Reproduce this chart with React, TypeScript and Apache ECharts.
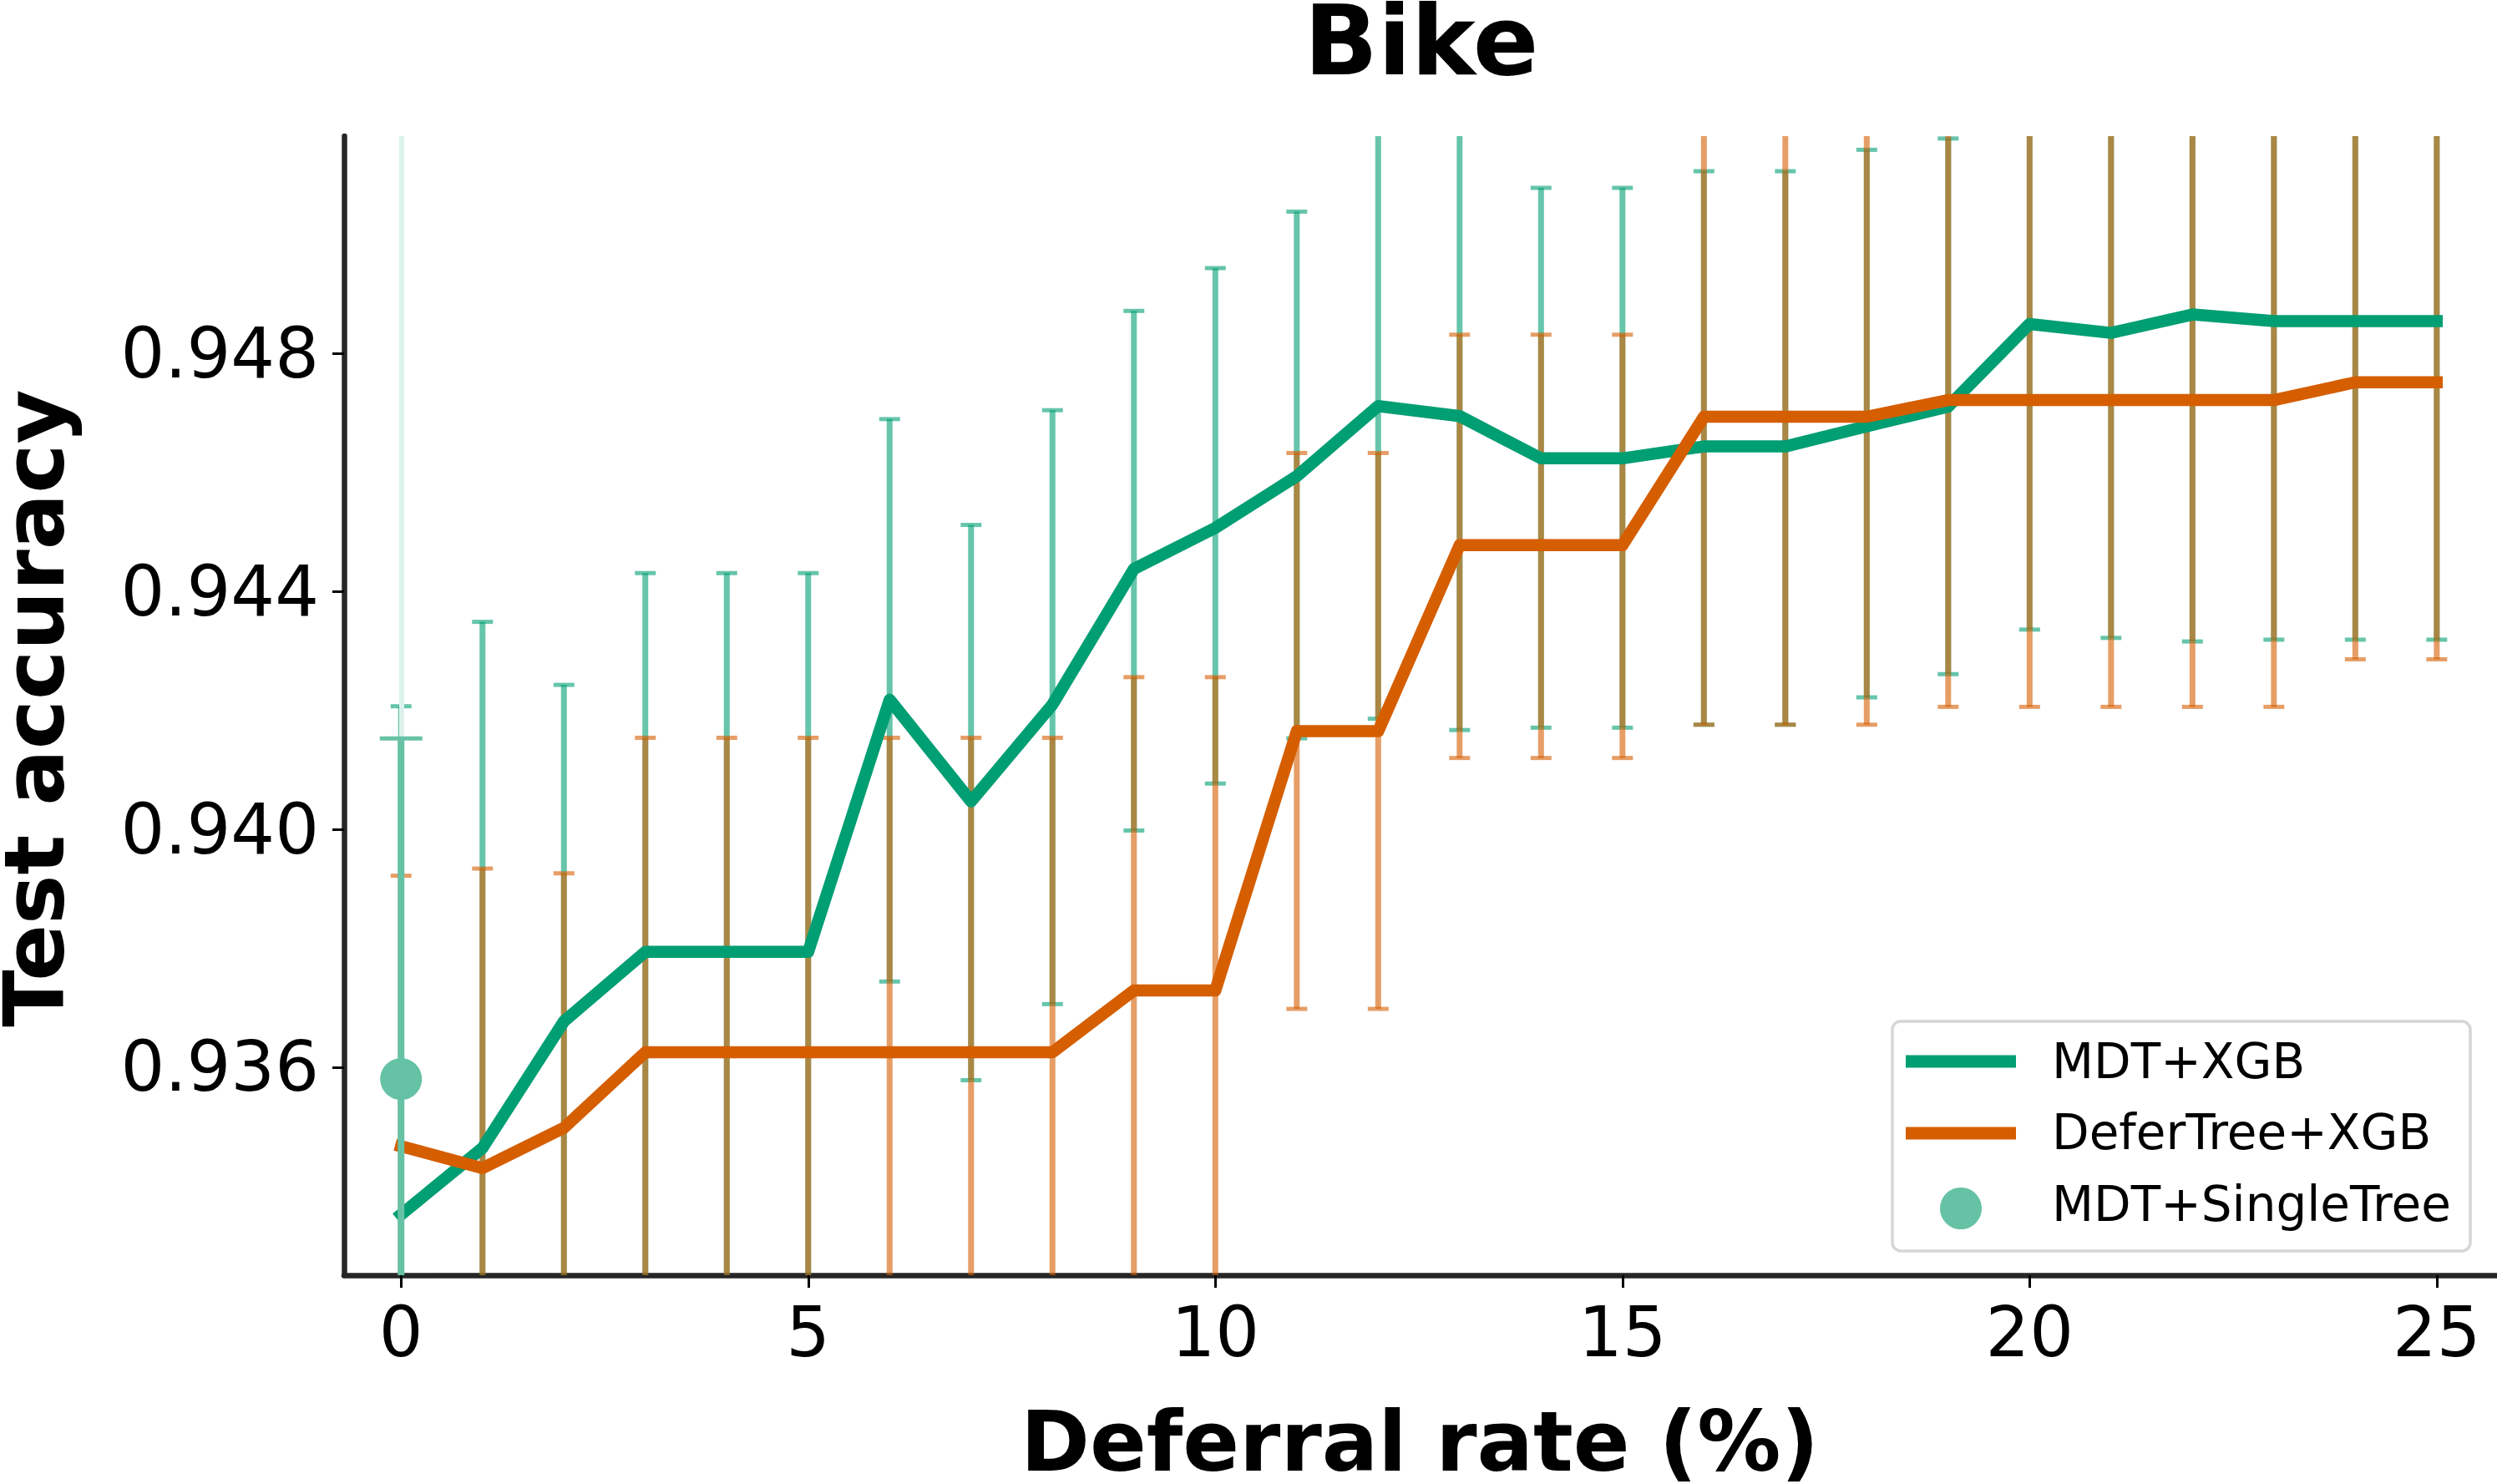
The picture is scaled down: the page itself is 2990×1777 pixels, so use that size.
import React, { useEffect, useRef } from "react";
import * as echarts from "echarts";

// Deferral rate (%) on the x axis
const deferralRates = [0, 1, 2, 3, 4, 5, 6, 7, 8, 9, 10, 11, 12, 13, 14, 15, 16, 17, 18, 19, 20, 21, 22, 23, 24, 25];

// MDT+XGB: mean test accuracy and error-bar ends
const mdtXgbMean = [
  0.93352, 0.93464, 0.93677, 0.93794, 0.93794, 0.93794, 0.94218, 0.94047, 0.9421, 0.94438,
  0.94507, 0.94594, 0.94712, 0.94695, 0.94624, 0.94624, 0.94644, 0.94644, 0.94678, 0.94711,
  0.9485, 0.94835, 0.94866, 0.94855, 0.94855, 0.94855,
];
const mdtXgbLower = [
  0.92497, 0.92579, 0.93111, 0.93157, 0.93157, 0.93157, 0.93744, 0.93578, 0.93706, 0.93998,
  0.94077, 0.94153, 0.94186, 0.94167, 0.94171, 0.94171, 0.94176, 0.94176, 0.94222, 0.94261,
  0.94336, 0.94322, 0.94316, 0.94319, 0.94319, 0.94319,
];
const mdtXgbUpper = [
  0.94207, 0.94349, 0.94243, 0.94431, 0.94431, 0.94431, 0.9469, 0.94512, 0.94705, 0.94872,
  0.94944, 0.95039, 0.95238, 0.95223, 0.95079, 0.95079, 0.95107, 0.95107, 0.95143, 0.95162,
  0.95364, 0.95348, 0.95416, 0.95391, 0.95391, 0.95391,
];

// DeferTree+XGB: mean test accuracy and error-bar ends
const deferTreeMean = [
  0.93467, 0.9343, 0.93498, 0.93625, 0.93625, 0.93625, 0.93625, 0.93625, 0.93625, 0.93729,
  0.93729, 0.94165, 0.94165, 0.94478, 0.94478, 0.94478, 0.94694, 0.94694, 0.94694, 0.94722,
  0.94722, 0.94722, 0.94722, 0.94722, 0.94752, 0.94752,
];
const deferTreeLower = [
  0.93012, 0.92926, 0.9307, 0.93096, 0.93096, 0.93096, 0.93096, 0.93096, 0.93096, 0.93202,
  0.93202, 0.93698, 0.93698, 0.9412, 0.9412, 0.9412, 0.94176, 0.94176, 0.94176, 0.94206,
  0.94206, 0.94206, 0.94206, 0.94206, 0.94286, 0.94286,
];
const deferTreeUpper = [
  0.93922, 0.93934, 0.93926, 0.94154, 0.94154, 0.94154, 0.94154, 0.94154, 0.94154, 0.94256,
  0.94256, 0.94633, 0.94633, 0.94832, 0.94832, 0.94832, 0.95212, 0.95212, 0.95212, 0.95238,
  0.95238, 0.95238, 0.95238, 0.95238, 0.95218, 0.95218,
];

// MDT+SingleTree: a single run at 0 % deferral
const singleTreeRate = [0];
const singleTreeMean = [0.9358];
const singleTreeLower = [0.93007];
const singleTreeUpper = [0.94153];

const xTickValues = [0, 5, 10, 15, 20, 25];
const yTickValues = [0.936, 0.94, 0.944, 0.948];
const seriesNames = ["MDT+XGB", "DeferTree+XGB", "MDT+SingleTree"];

const GREEN = "#009e73";
const ORANGE = "#d55e00";
const LIGHT_GREEN = "#66c2a5";
const FONT = "DejaVu Sans";

type BarStyle = { color: string; barWidth: number; capHalf: number; capWidth: number };

function errorBars(
  name: string,
  xs: number[],
  lower: number[],
  upper: number[],
  look: BarStyle,
  z: number,
  extra: Record<string, unknown> = {}
) {
  return {
    type: "custom",
    name,
    z,
    silent: true,
    data: xs.map((x, i) => [x, lower[i], upper[i]]),
    encode: { x: 0, y: [1, 2] },
    renderItem: (params: any, api: any) => {
      const cs = params.coordSys;
      const top = cs.y;
      const bottom = cs.y + cs.height;
      const pLo = api.coord([api.value(0), api.value(1)]);
      const pHi = api.coord([api.value(0), api.value(2)]);
      const px = pLo[0];
      const y1 = Math.max(pHi[1], top);
      const y2 = Math.min(pLo[1], bottom);
      const children: any[] = [];
      if (y2 > y1) {
        children.push({
          type: "line",
          shape: { x1: px, y1, x2: px, y2 },
          style: { stroke: look.color, lineWidth: look.barWidth, lineCap: "butt" },
        });
      }
      for (const cy of [pHi[1], pLo[1]]) {
        if (cy >= top && cy <= bottom) {
          children.push({
            type: "line",
            shape: { x1: px - look.capHalf, y1: cy, x2: px + look.capHalf, y2: cy },
            style: { stroke: look.color, lineWidth: look.capWidth, lineCap: "butt" },
          });
        }
      }
      return { type: "group", children };
    },
    ...extra,
  };
}

function toPairs(xs: number[], ys: number[]) {
  return xs.map((x, i) => [x, ys[i]]);
}

export default function App() {
  const ref = useRef<HTMLDivElement>(null);

  useEffect(() => {
    if (!ref.current) return;
    const chart = echarts.init(ref.current, undefined, { renderer: "svg" });

    const axisLineStyle = { color: "#262626", width: 6.5 };
    const tickStyle = { color: "#000", width: 3 };
    const labelStyle = { fontSize: 83, color: "#000", fontFamily: FONT };

    chart.setOption({
      animation: false,
      backgroundColor: "#ffffff",
      textStyle: { fontFamily: FONT },
      grid: {
        left: 412,
        right: 0,
        top: 163,
        bottom: 250,
        containLabel: false,
        outerBoundsMode: "none",
      },
      xAxis: {
        type: "value",
        min: -0.7,
        max: 25.74,
        axisLine: { show: true, onZero: false, lineStyle: axisLineStyle },
        axisTick: { show: true, customValues: xTickValues, length: 15, lineStyle: tickStyle },
        axisLabel: { customValues: xTickValues, margin: 27, ...labelStyle },
        splitLine: { show: false },
      },
      yAxis: {
        type: "value",
        min: 0.9325,
        max: 0.95166,
        axisLine: { show: true, onZero: false, lineStyle: axisLineStyle },
        axisTick: { show: true, customValues: yTickValues, length: 14, lineStyle: tickStyle },
        axisLabel: {
          customValues: yTickValues,
          margin: 30,
          formatter: (v: number) => v.toFixed(3),
          ...labelStyle,
        },
        splitLine: { show: false },
      },
      series: [
        errorBars(
          seriesNames[0] + " spread",
          deferralRates,
          mdtXgbLower,
          mdtXgbUpper,
          { color: "rgba(0,158,115,0.6)", barWidth: 7, capHalf: 12.5, capWidth: 5 },
          2,
          {
            markLine: {
              silent: true,
              symbol: ["none", "none"],
              label: { show: false },
              lineStyle: { color: "#ddf2ec", width: 6, type: "solid" },
              data: [{ xAxis: singleTreeRate[0] }],
            },
          }
        ),
        errorBars(
          seriesNames[1] + " spread",
          deferralRates,
          deferTreeLower,
          deferTreeUpper,
          { color: "rgba(213,94,0,0.6)", barWidth: 7, capHalf: 12.5, capWidth: 5 },
          3
        ),
        {
          type: "line",
          name: seriesNames[0],
          z: 4,
          data: toPairs(deferralRates, mdtXgbMean),
          symbol: "none",
          showSymbol: false,
          lineStyle: { color: GREEN, width: 14.5, cap: "square", join: "round" },
          itemStyle: { color: GREEN },
        },
        {
          type: "line",
          name: seriesNames[1],
          z: 5,
          data: toPairs(deferralRates, deferTreeMean),
          symbol: "none",
          showSymbol: false,
          lineStyle: { color: ORANGE, width: 14.5, cap: "square", join: "round" },
          itemStyle: { color: ORANGE },
        },
        errorBars(
          seriesNames[2] + " spread",
          singleTreeRate,
          singleTreeLower,
          singleTreeUpper,
          { color: LIGHT_GREEN, barWidth: 8, capHalf: 25.5, capWidth: 5 },
          6
        ),
        {
          type: "scatter",
          name: seriesNames[2],
          z: 7,
          data: toPairs(singleTreeRate, singleTreeMean),
          symbol: "circle",
          symbolSize: 50,
          itemStyle: { color: LIGHT_GREEN, opacity: 1 },
        },
      ],
      graphic: [
        {
          type: "text",
          x: 1702,
          y: 48,
          z: 100,
          style: {
            text: "Bike",
            fill: "#000",
            fontFamily: FONT,
            fontWeight: "bold",
            fontSize: 116,
            align: "center",
            verticalAlign: "middle",
            textAlign: "center",
            textVerticalAlign: "middle",
          },
        },
        {
          type: "text",
          x: 1700,
          y: 1726,
          z: 100,
          style: {
            text: "Deferral rate (%)",
            fill: "#000",
            fontFamily: FONT,
            fontWeight: "bold",
            fontSize: 100,
            align: "center",
            verticalAlign: "middle",
            textAlign: "center",
            textVerticalAlign: "middle",
          },
        },
        {
          type: "text",
          x: 41,
          y: 848,
          rotation: Math.PI / 2,
          z: 100,
          style: {
            text: "Test accuracy",
            fill: "#000",
            fontFamily: FONT,
            fontWeight: "bold",
            fontSize: 100,
            align: "center",
            verticalAlign: "middle",
            textAlign: "center",
            textVerticalAlign: "middle",
          },
        },
        {
          type: "group",
          z: 100,
          children: [
            {
              type: "rect",
              shape: { x: 2266, y: 1223, width: 692, height: 275, r: 10 },
              style: { fill: "rgba(255,255,255,0.8)", stroke: "#d6d6d6", lineWidth: 3.5 },
            },
            {
              type: "line",
              shape: { x1: 2282, y1: 1271, x2: 2414, y2: 1271 },
              style: { stroke: GREEN, lineWidth: 15 },
            },
            {
              type: "line",
              shape: { x1: 2282, y1: 1357, x2: 2414, y2: 1357 },
              style: { stroke: ORANGE, lineWidth: 15 },
            },
            {
              type: "circle",
              shape: { cx: 2348, cy: 1447, r: 25 },
              style: { fill: LIGHT_GREEN },
            },
            ...seriesNames.map((label, i) => ({
              type: "text",
              x: 2457,
              y: [1271, 1356, 1442][i],
              style: {
                text: label,
                fill: "#000",
                fontFamily: FONT,
                fontSize: 58,
                align: "left",
                verticalAlign: "middle",
                textAlign: "left",
                textVerticalAlign: "middle",
              },
            })),
          ],
        },
      ],
    });

    return () => chart.dispose();
  }, []);

  return (
    <div
      ref={ref}
      style={{ position: "absolute", left: 0, top: 0, width: 2990, height: 1777, background: "#fff" }}
    />
  );
}
